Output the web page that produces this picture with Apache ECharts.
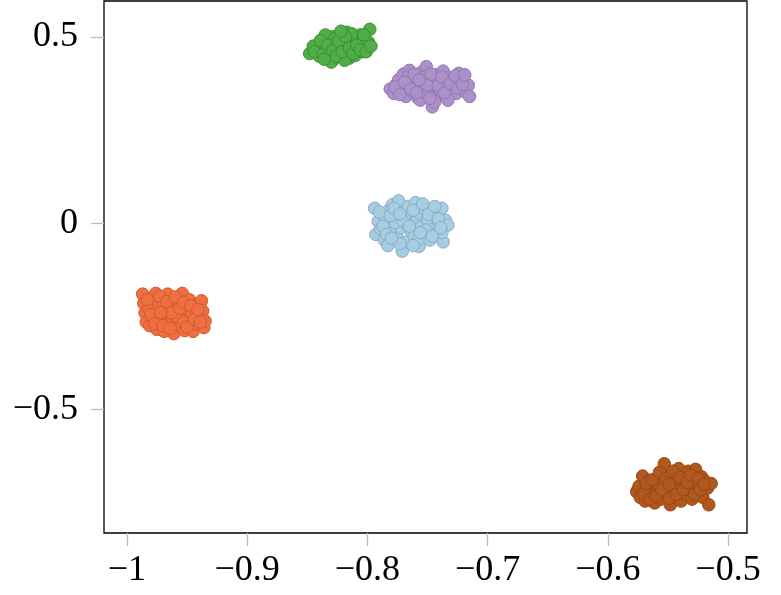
<!DOCTYPE html>
<html><head><meta charset="utf-8">
<script src="https://cdn.jsdelivr.net/npm/echarts@6/dist/echarts.min.js"></script>
<style>html,body{margin:0;padding:0;background:#fff}#c{width:781px;height:595px}</style>
</head><body><div id="c"></div>
<script>
const xTicks = [-1, -0.9, -0.8, -0.7, -0.6, -0.5];
const yTicks = [-0.5, 0, 0.5];

const lightBlue = [[-0.794,0.040],[-0.793,-0.030],[-0.791,0.005],[-0.789,-0.015],[-0.788,0.025],[-0.786,-0.045],[-0.785,0.012],[-0.783,-0.060],[-0.782,0.035],[-0.780,-0.005],[-0.779,0.050],[-0.778,-0.025],[-0.776,0.018],[-0.775,-0.040],[-0.774,0.060],[-0.772,-0.012],[-0.771,-0.075],[-0.770,0.030],[-0.768,0.000],[-0.767,-0.050],[-0.766,0.045],[-0.764,-0.020],[-0.763,0.015],[-0.761,-0.035],[-0.760,0.055],[-0.759,0.005],[-0.757,-0.062],[-0.756,0.025],[-0.755,-0.010],[-0.753,0.040],[-0.752,-0.030],[-0.750,0.010],[-0.748,-0.045],[-0.747,0.030],[-0.745,-0.015],[-0.743,0.020],[-0.742,-0.028],[-0.740,0.000],[-0.738,0.040],[-0.737,-0.050],[-0.735,0.008],[-0.733,-0.005],[-0.738,-0.025],[-0.769,0.015],[-0.777,0.002],[-0.790,0.030],[-0.787,-0.008],[-0.784,-0.030],[-0.781,0.020],[-0.778,0.040],[-0.773,-0.055],[-0.771,0.008],[-0.765,-0.008],[-0.762,0.035],[-0.758,-0.045],[-0.754,0.052],[-0.751,-0.018],[-0.749,0.024],[-0.746,-0.035],[-0.744,0.045],[-0.741,0.012],[-0.739,-0.012],[-0.762,-0.060],[-0.780,-0.040],[-0.773,0.025],[-0.756,-0.025]];
const green = [[-0.848,0.455],[-0.842,0.468],[-0.840,0.448],[-0.838,0.478],[-0.836,0.460],[-0.834,0.490],[-0.832,0.470],[-0.831,0.452],[-0.829,0.500],[-0.828,0.440],[-0.826,0.482],[-0.825,0.463],[-0.823,0.505],[-0.822,0.447],[-0.821,0.490],[-0.820,0.472],[-0.818,0.458],[-0.817,0.512],[-0.816,0.495],[-0.815,0.443],[-0.814,0.480],[-0.812,0.465],[-0.811,0.500],[-0.810,0.450],[-0.808,0.488],[-0.807,0.472],[-0.806,0.505],[-0.804,0.460],[-0.803,0.493],[-0.802,0.478],[-0.800,0.470],[-0.799,0.485],[-0.798,0.520],[-0.830,0.432],[-0.845,0.475],[-0.835,0.505],[-0.819,0.437],[-0.827,0.495],[-0.813,0.508],[-0.805,0.482],[-0.844,0.460],[-0.839,0.490],[-0.837,0.452],[-0.833,0.478],[-0.829,0.462],[-0.826,0.448],[-0.824,0.488],[-0.821,0.460],[-0.818,0.500],[-0.815,0.470],[-0.812,0.455],[-0.809,0.478],[-0.806,0.465],[-0.803,0.505],[-0.801,0.460],[-0.797,0.475],[-0.836,0.440],[-0.822,0.515]];
const purple = [[-0.781,0.360],[-0.778,0.348],[-0.776,0.372],[-0.774,0.385],[-0.772,0.355],[-0.770,0.400],[-0.768,0.340],[-0.767,0.368],[-0.765,0.410],[-0.763,0.380],[-0.762,0.352],[-0.760,0.392],[-0.758,0.336],[-0.757,0.365],[-0.755,0.405],[-0.754,0.378],[-0.752,0.345],[-0.751,0.420],[-0.749,0.388],[-0.748,0.358],[-0.746,0.312],[-0.745,0.372],[-0.743,0.398],[-0.742,0.340],[-0.740,0.382],[-0.739,0.355],[-0.737,0.408],[-0.735,0.368],[-0.734,0.338],[-0.732,0.390],[-0.730,0.360],[-0.728,0.378],[-0.726,0.348],[-0.724,0.402],[-0.722,0.365],[-0.720,0.385],[-0.718,0.352],[-0.716,0.370],[-0.715,0.340],[-0.744,0.325],[-0.756,0.330],[-0.733,0.330],[-0.766,0.392],[-0.750,0.345],[-0.777,0.365],[-0.773,0.345],[-0.769,0.378],[-0.764,0.360],[-0.761,0.400],[-0.759,0.350],[-0.753,0.392],[-0.750,0.370],[-0.747,0.400],[-0.741,0.368],[-0.738,0.392],[-0.736,0.350],[-0.731,0.375],[-0.727,0.395],[-0.725,0.362],[-0.721,0.372],[-0.719,0.398],[-0.748,0.335],[-0.757,0.385]];
const orange = [[-0.987,-0.190],[-0.986,-0.215],[-0.985,-0.240],[-0.984,-0.265],[-0.982,-0.228],[-0.981,-0.275],[-0.979,-0.200],[-0.978,-0.252],[-0.976,-0.188],[-0.975,-0.285],[-0.974,-0.232],[-0.972,-0.260],[-0.971,-0.205],[-0.969,-0.290],[-0.968,-0.245],[-0.966,-0.190],[-0.965,-0.270],[-0.964,-0.222],[-0.962,-0.255],[-0.961,-0.296],[-0.960,-0.235],[-0.958,-0.210],[-0.957,-0.275],[-0.955,-0.248],[-0.954,-0.188],[-0.952,-0.288],[-0.951,-0.228],[-0.949,-0.262],[-0.948,-0.205],[-0.946,-0.242],[-0.945,-0.290],[-0.943,-0.220],[-0.942,-0.270],[-0.940,-0.250],[-0.938,-0.208],[-0.937,-0.235],[-0.936,-0.280],[-0.935,-0.262],[-0.970,-0.218],[-0.959,-0.250],[-0.963,-0.240],[-0.953,-0.265],[-0.983,-0.205],[-0.980,-0.245],[-0.977,-0.270],[-0.973,-0.195],[-0.970,-0.275],[-0.967,-0.210],[-0.964,-0.282],[-0.960,-0.198],[-0.956,-0.228],[-0.953,-0.212],[-0.950,-0.278],[-0.947,-0.222],[-0.944,-0.258],[-0.941,-0.232],[-0.939,-0.265],[-0.972,-0.240]];
const brown = [[-0.576,-0.720],[-0.574,-0.705],[-0.573,-0.735],[-0.571,-0.678],[-0.569,-0.745],[-0.567,-0.712],[-0.566,-0.690],[-0.564,-0.728],[-0.562,-0.700],[-0.561,-0.750],[-0.559,-0.718],[-0.557,-0.682],[-0.556,-0.740],[-0.554,-0.695],[-0.553,-0.645],[-0.551,-0.725],[-0.550,-0.708],[-0.548,-0.755],[-0.547,-0.672],[-0.545,-0.735],[-0.544,-0.690],[-0.542,-0.715],[-0.541,-0.658],[-0.539,-0.745],[-0.538,-0.700],[-0.536,-0.680],[-0.535,-0.728],[-0.533,-0.665],[-0.532,-0.710],[-0.530,-0.740],[-0.529,-0.688],[-0.527,-0.660],[-0.526,-0.722],[-0.524,-0.700],[-0.522,-0.680],[-0.521,-0.735],[-0.519,-0.692],[-0.517,-0.710],[-0.516,-0.755],[-0.514,-0.698],[-0.546,-0.718],[-0.558,-0.705],[-0.570,-0.725],[-0.568,-0.698],[-0.565,-0.740],[-0.563,-0.688],[-0.560,-0.732],[-0.557,-0.668],[-0.555,-0.715],[-0.552,-0.685],[-0.549,-0.738],[-0.546,-0.665],[-0.543,-0.728],[-0.540,-0.682],[-0.537,-0.715],[-0.534,-0.695],[-0.531,-0.675],[-0.528,-0.728],[-0.525,-0.685],[-0.523,-0.715],[-0.520,-0.700],[-0.549,-0.700]];

const fmt = v => (v < 0 ? '\u2212' : '') + String(Math.abs(v));
const font = {fontFamily: 'Liberation Serif', fontSize: 36, color: '#000'};
function series(data, fill, stroke) {
  return {type: 'scatter', data: data, symbol: 'circle', symbolSize: 12.5,
    itemStyle: {color: fill, borderColor: stroke, borderWidth: 1, opacity: 1}, silent: true};
}
const chart = echarts.init(document.getElementById('c'), null, {renderer: 'canvas'});
chart.setOption({
  animation: false,
  grid: {left: 104, right: 34, top: 1, bottom: 62, show: true, borderColor: '#000', borderWidth: 1.3, backgroundColor: 'transparent'},
  xAxis: {type: 'value', min: -1.0191, max: -0.4842,
    axisLine: {show: false, onZero: false}, splitLine: {show: false},
    axisTick: {show: true, customValues: xTicks, length: 13, lineStyle: {color: '#bbb', width: 1.3}},
    axisLabel: Object.assign({customValues: xTicks, formatter: fmt, margin: 20}, font)},
  yAxis: {type: 'value', min: -0.8307, max: 0.596,
    axisLine: {show: false, onZero: false}, splitLine: {show: false},
    axisTick: {show: true, customValues: yTicks, length: 13, lineStyle: {color: '#bbb', width: 1.3}},
    axisLabel: Object.assign({customValues: yTicks, formatter: fmt, margin: 26}, font)},
  series: [
    series(lightBlue, '#a6cde2', '#86acc3'),
    series(green, '#4fae45', '#3c8f33'),
    series(purple, '#ab91c8', '#9277b0'),
    series(orange, '#ef6f42', '#cf5a2f'),
    series(brown, '#b2581f', '#954814')
  ]
});
</script></body></html>
